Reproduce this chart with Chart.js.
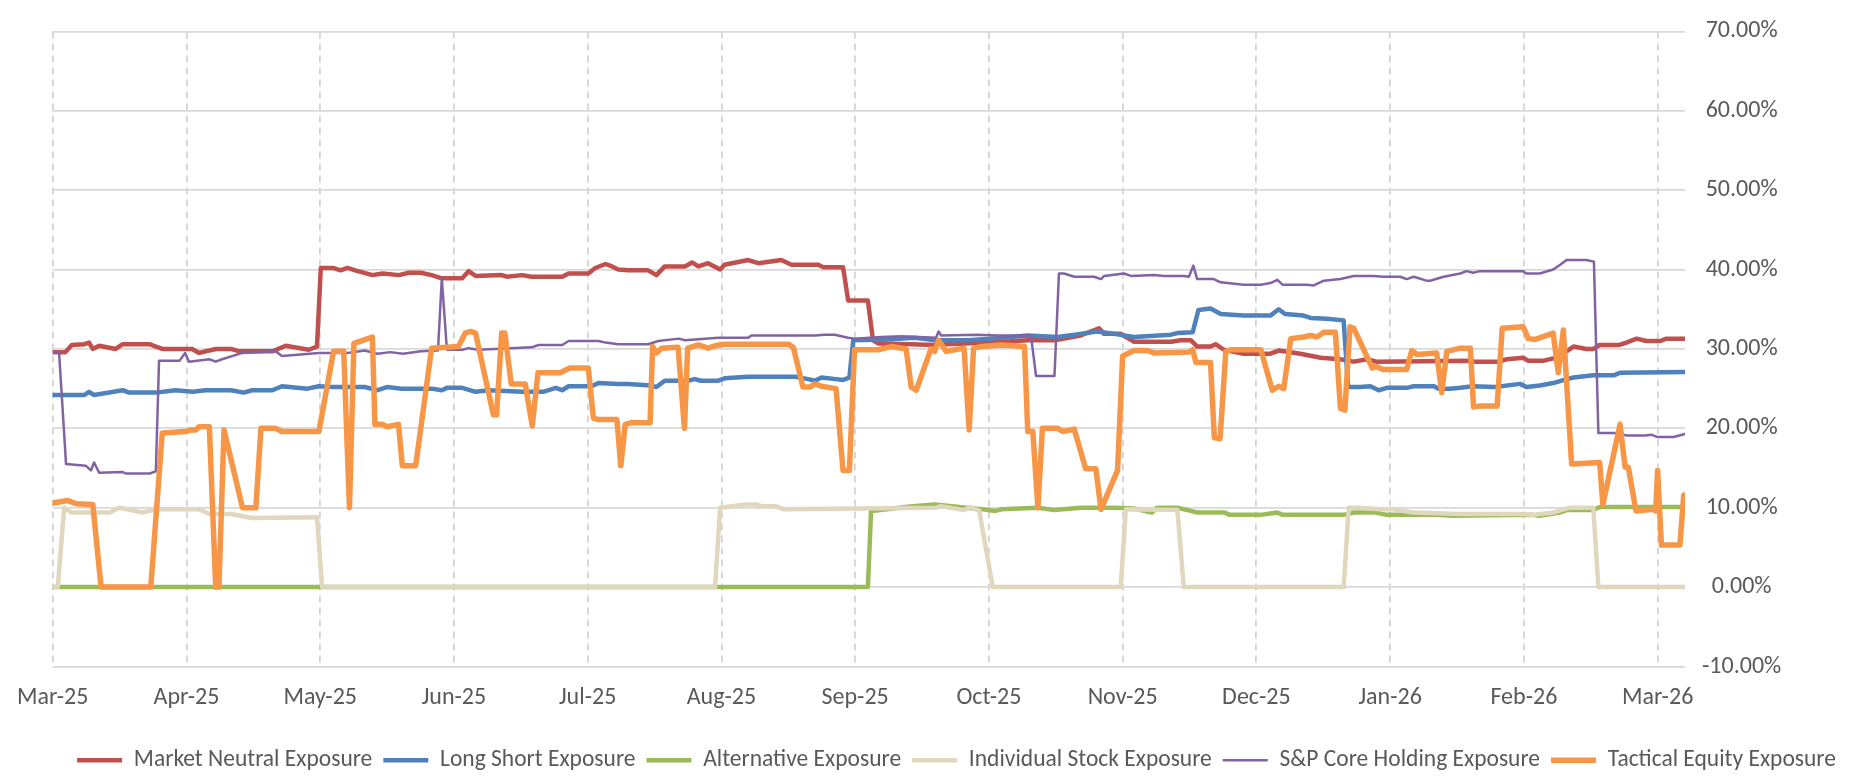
<!DOCTYPE html>
<html>
<head>
<meta charset="utf-8">
<title>Exposure</title>
<script src="https://cdn.jsdelivr.net/npm/chart.js@4.4.1/dist/chart.umd.min.js"></script>
<style>
  html, body { margin: 0; padding: 0; background: #fff; }
</style>
</head>
<body>
<canvas id="exposureChart" width="1865" height="783"></canvas>
<script>
// Month tick labels, one every 21 trading days
const monthLabels = ["Mar-25", "Apr-25", "May-25", "Jun-25", "Jul-25", "Aug-25", "Sep-25",
  "Oct-25", "Nov-25", "Dec-25", "Jan-26", "Feb-26", "Mar-26"];
const DAYS_PER_MONTH = 21;
const LAST_DAY = 256.3;

// Each series: [trading day, exposure %]
const marketNeutral = [[0,29.6],[2,29.6],[3,30.5],[5,30.6],[5.7,30.8],[6.3,30.0],[7.3,30.4],[9.9,30.0],[11,30.6],[15.2,30.6],[16.2,30.3],[17.2,30.0],[21.9,30.0],[23,29.5],[25.6,30.0],[28,30.0],[29.3,29.7],[34.5,29.7],[36.6,30.4],[40.2,29.9],[41.5,30.3],[42.1,40.2],[44,40.2],[45.2,39.9],[46.3,40.2],[47.5,39.9],[50.2,39.3],[51.8,39.5],[54.4,39.3],[55.9,39.6],[57.8,39.6],[59.5,39.3],[61.1,38.9],[64.3,38.9],[65.3,39.8],[66.4,39.2],[70.5,39.3],[71.3,39.1],[73.7,39.3],[75.2,39.1],[80,39.1],[81,39.5],[84.1,39.5],[85.2,40.2],[86.8,40.7],[87.5,40.5],[88.8,40.0],[90.4,39.9],[93.5,39.9],[94.8,39.3],[96.1,40.4],[99.3,40.4],[100.4,40.9],[101.4,40.4],[102.9,40.8],[104.8,40.0],[105.5,40.6],[109.2,41.2],[110.8,40.8],[114.4,41.2],[116,40.6],[120.2,40.6],[121,40.3],[124.1,40.3],[124.9,36.1],[128,36.1],[128.8,31.1],[129.6,30.7],[134.8,30.6],[138.5,30.5],[139.1,30.9],[140.3,30.6],[147.3,30.8],[153.1,31.1],[157.3,31.1],[161.4,31.7],[164.3,32.6],[165.1,31.9],[167.7,31.9],[169.8,30.9],[175.6,30.9],[177.1,31.1],[178.7,31.1],[179.7,30.3],[181.8,30.3],[182.6,30.6],[183.9,29.9],[187,29.4],[191.2,29.4],[192.5,29.8],[195.9,29.4],[199.1,28.9],[202.2,28.7],[204.3,28.4],[206.4,28.7],[207.8,28.4],[222.6,28.5],[223.3,28.4],[227,28.4],[228.3,28.7],[230.9,28.9],[231.7,28.5],[234,28.5],[236.1,28.9],[237.7,29.7],[238.8,30.3],[240.8,30.0],[241.9,30.0],[242.9,30.5],[246,30.5],[247.1,30.8],[248.7,31.3],[250.2,31.0],[252.4,31.0],[253.4,31.3],[256.3,31.3]];

const longShort = [[0,24.2],[5,24.2],[5.7,24.6],[6.5,24.2],[11,24.8],[12,24.5],[16.2,24.5],[19.3,24.8],[22,24.6],[24,24.8],[28,24.8],[30,24.5],[31.3,24.8],[34.5,24.8],[36,25.3],[40,25.0],[41.8,25.3],[44,25.2],[49,25.2],[51,24.8],[52.5,25.2],[54.8,25.0],[59.5,25.0],[61.1,24.8],[61.9,25.1],[64.3,25.1],[66.4,24.6],[68.5,24.8],[73.7,24.6],[77,24.6],[79,25.1],[80,24.8],[81,25.3],[84.6,25.3],[85.7,25.7],[88.8,25.6],[90.4,25.6],[94,25.4],[94.8,25.2],[96.1,26.0],[99.7,26.0],[100.8,26.2],[101.8,26.0],[104.5,26.0],[105.5,26.3],[109.2,26.5],[116.6,26.5],[118.6,26.2],[119.7,26.0],[120.7,26.4],[123,26.2],[124.1,26.1],[125.1,26.4],[125.7,31.1],[131,31.2],[135.3,31.4],[138.7,31.1],[143.7,31.1],[147.3,31.3],[153.1,31.7],[157.8,31.5],[161.4,31.9],[164,32.2],[166.7,31.9],[169.8,31.5],[175.6,31.8],[176.6,32.0],[179,32.1],[179.9,34.9],[181.8,35.1],[183.4,34.4],[187,34.2],[191.2,34.2],[192.5,35.0],[193.5,34.4],[196.4,34.2],[197.5,33.9],[200.1,33.8],[202.7,33.6],[203.4,25.2],[205.3,25.2],[206.9,25.3],[208.2,24.8],[209.5,25.1],[212.6,25.1],[213.7,25.3],[216.9,25.3],[217.6,25.0],[219.4,25.0],[221,25.1],[223,25.3],[226.5,25.2],[230.4,25.6],[231.4,25.2],[233.5,25.4],[235.6,25.7],[237.7,26.2],[238.8,26.4],[241.9,26.7],[245.2,26.7],[246.1,27.0],[256.3,27.1]];

const alternative = [[0,0],[128,0],[128.5,9.6],[131,9.8],[135,10.2],[138.5,10.4],[143.5,10.0],[146,9.8],[148,9.6],[149,9.8],[154.7,10.0],[157.3,9.7],[161.4,10.0],[166.7,10.0],[169.8,9.9],[172.6,9.4],[173.4,10.0],[176.6,10.0],[178.7,9.6],[179.7,9.4],[184,9.4],[184.8,9.1],[189.7,9.1],[192.3,9.4],[193.1,9.1],[202.7,9.1],[204.3,9.4],[207.8,9.4],[209.4,9.1],[217.3,9.1],[219.9,9.0],[232.4,9.1],[233.4,9.0],[236.7,9.4],[237.7,9.7],[241.9,9.7],[242.9,10.1],[256.3,10.1]];

const individualStock = [[0,0],[0.8,0],[1.8,10.0],[2.9,9.4],[9,9.4],[10.4,10.0],[11.2,9.9],[14.1,9.4],[15.2,9.6],[16.2,9.8],[23,9.8],[24.6,9.2],[28,9.2],[31.3,8.7],[41.5,8.8],[42.3,0],[104,0],[104.8,10.0],[108.8,10.4],[110.4,10.4],[111.4,10.2],[113.5,10.2],[114.8,9.8],[138.7,10.0],[139.5,10.2],[143.1,9.7],[144.1,10.1],[145.5,9.6],[147.6,0],[167.7,0],[168.5,9.8],[176.6,9.7],[177.6,0],[202.7,0],[203.5,10.0],[205.3,10.0],[208.4,9.8],[210.4,9.8],[213.7,9.4],[217.3,9.3],[221,9.2],[230.4,9.2],[232.4,9.1],[235.6,9.4],[237.2,9.8],[238.2,10.0],[241.9,10.0],[242.7,0],[256.3,0]];

const spCoreHolding = [[0,29.6],[1,29.6],[2.1,15.5],[5.2,15.3],[6,14.7],[6.5,15.7],[7.3,14.4],[11,14.5],[11.5,14.3],[15.2,14.3],[16.2,14.6],[16.7,28.5],[19.9,28.5],[20.8,29.5],[21.4,28.4],[24.6,28.7],[25.6,28.4],[26.6,28.7],[29.8,29.5],[35,29.7],[36,29.1],[41.8,29.5],[46.3,29.5],[49,29.8],[51,29.4],[53,29.6],[55,29.4],[57.8,29.7],[60.5,29.8],[61.1,38.9],[61.9,29.9],[64.3,29.9],[65.3,30.1],[66.8,29.9],[75.2,30.2],[76.3,30.5],[80,30.5],[81,31.0],[85.7,31.0],[86.8,30.8],[88.8,30.6],[93.5,30.6],[95.1,31.0],[98.3,31.3],[99.3,31.1],[104.5,31.4],[109.2,31.4],[109.7,31.7],[119.7,31.7],[121.2,31.8],[122.8,31.8],[124.9,31.4],[125.9,31.3],[130.1,31.5],[133.2,31.6],[138.7,31.4],[139.1,32.2],[139.5,31.7],[145.2,31.8],[148.4,31.7],[153.6,31.7],[154.4,26.6],[157.3,26.6],[158,39.5],[158.8,39.5],[160.4,39.1],[163.5,39.1],[164.6,38.8],[165.1,39.2],[168.2,39.5],[169.3,39.2],[172.9,39.3],[174.5,39.2],[177.6,39.2],[178.4,39.1],[179.1,40.5],[179.7,38.8],[182.3,38.8],[183.4,38.4],[187,38.1],[189.7,38.1],[191.2,38.3],[192.3,38.7],[193.1,38.1],[196.9,38.1],[198,38.0],[199.6,38.6],[202.2,38.8],[204.3,39.2],[207.4,39.2],[209,39.1],[211.6,39.1],[212.6,38.8],[213.7,39.1],[215.7,38.6],[216.3,38.6],[218.4,39.1],[221,39.5],[222,39.8],[223,39.6],[224.1,39.8],[230.9,39.8],[231.4,39.5],[233.5,39.5],[235.6,40.0],[236.7,40.6],[237.7,41.2],[240.8,41.2],[242,41.0],[242.7,19.4],[245.2,19.4],[247.2,19.1],[250,19.1],[251,19.2],[252,18.9],[254.5,18.9],[256.3,19.3]];

const tacticalEquity = [[0,10.6],[2.4,10.9],[3.7,10.5],[6.3,10.4],[7.6,0],[15.4,0],[17.2,19.4],[20.9,19.6],[21.7,19.8],[22.5,19.8],[23,20.2],[24.6,20.2],[25.6,0],[26.1,0],[26.9,19.8],[29.8,10.0],[31.9,10.0],[32.7,20.0],[35,20.0],[36,19.6],[41.8,19.6],[44.1,29.7],[45.7,29.7],[46.6,10.0],[47.3,30.7],[50.2,31.5],[50.6,20.5],[51.8,20.5],[52.5,20.2],[54.3,20.5],[54.9,15.3],[57,15.3],[59.5,30.1],[63.7,30.3],[64.8,32.0],[65.6,32.2],[66.4,32.0],[69.2,21.7],[69.7,21.7],[70.5,32.0],[71,32.0],[72,25.6],[74.2,25.6],[75.3,20.3],[76.2,27.0],[79.7,27.0],[81.2,27.6],[84.1,27.6],[84.9,21.3],[85.7,21.1],[88.6,21.1],[89.2,15.3],[89.9,20.5],[90.9,20.7],[93.8,20.7],[94.2,30.3],[94.8,29.5],[95.6,30.1],[98.2,30.2],[99.2,20.0],[99.7,30.1],[101.4,30.5],[102.9,30.1],[104,30.4],[105.3,30.6],[115.5,30.6],[116.3,30.2],[117.8,25.2],[118.9,25.2],[119.7,25.6],[120.7,25.3],[123,25.0],[124.1,14.7],[125.1,14.7],[125.9,29.9],[129.6,29.9],[131.7,30.3],[134,30.0],[134.8,25.2],[135.6,24.8],[137.9,30.0],[138.5,29.7],[139.1,31.1],[140.3,29.7],[143.1,30.1],[143.9,19.8],[144.6,30.1],[145.8,30.3],[149,30.5],[152.6,30.3],[153.1,19.6],[153.9,19.6],[154.7,10.0],[155.4,20.0],[157.8,20.0],[158.6,19.6],[160.4,19.9],[162.2,14.9],[163.8,14.9],[164.6,9.8],[167.2,14.7],[168,29.1],[169.8,29.8],[171.9,29.8],[172.9,29.5],[178.4,29.6],[179,29.9],[179.5,28.3],[181.8,28.3],[182.4,18.8],[183.3,18.7],[184.2,29.7],[185,29.9],[189.7,29.9],[191.5,24.8],[192.5,25.3],[193.3,25.0],[194.4,31.3],[196.4,31.5],[197.5,31.7],[198.5,31.5],[199.6,32.1],[201.4,32.1],[202.2,22.5],[202.9,22.3],[203.7,32.8],[204.3,32.6],[207.2,27.6],[207.8,27.8],[208.9,27.4],[212.6,27.4],[213.4,29.8],[214.2,29.3],[217.3,29.5],[218.1,24.5],[218.9,29.7],[221,30.1],[222.6,30.1],[223.1,22.7],[223.9,22.8],[226.8,22.8],[227.6,32.6],[230.9,32.8],[231.7,31.3],[232.8,31.2],[235.6,32.0],[236.4,27.0],[237.2,32.4],[238.5,15.5],[242.9,15.7],[243.4,10.4],[246.1,20.5],[246.9,15.1],[247.4,15.1],[248.6,9.6],[251.3,9.8],[251.7,9.6],[252,14.7],[252.6,5.3],[255.5,5.3],[256.1,11.6]];

const FONT = "Calibri, Carlito, Lato, sans-serif";
Chart.defaults.font.family = FONT;
Chart.defaults.color = "#595959";

// later series are drawn on top (lower order = on top)
function series(label, data, color, width, order) {
  return {
    label: label,
    data: data,
    borderColor: color,
    backgroundColor: color,
    borderWidth: width,
    pointRadius: 0,
    pointHoverRadius: 0,
    pointStyle: "line",
    borderJoinStyle: "round",
    borderCapStyle: "round",
    tension: 0,
    fill: false,
    order: order
  };
}

const ctx = document.getElementById("exposureChart").getContext("2d");
new Chart(ctx, {
  type: "line",
  data: {
    datasets: [
      series("Market Neutral Exposure", marketNeutral, "#C0504D", 4.5, 6),
      series("Long Short Exposure", longShort, "#4F81BD", 4.5, 5),
      series("Alternative Exposure", alternative, "#9BBB59", 4.5, 4),
      series("Individual Stock Exposure", individualStock, "#DFD8BE", 4.5, 3),
      series("S&P Core Holding Exposure", spCoreHolding, "#8064A2", 2.5, 2),
      series("Tactical Equity Exposure", tacticalEquity, "#F79646", 5.5, 1)
    ]
  },
  options: {
    responsive: false,
    animation: false,
    layout: { padding: { left: 48, right: 0, top: 19, bottom: 1 } },
    scales: {
      x: {
        type: "linear",
        min: 0,
        max: LAST_DAY,
        afterBuildTicks: function(scale) {
          scale.ticks = monthLabels.map(function(_, i) { return { value: i * DAYS_PER_MONTH }; });
        },
        afterFit: function(scale) { scale.height = 71; },
        ticks: {
          autoSkip: false,
          maxRotation: 0,
          padding: 17,
          font: { size: 24 },
          callback: function(v) { return monthLabels[Math.round(v / DAYS_PER_MONTH)]; }
        },
        grid: { color: "#d4d4d4", lineWidth: 1.8, drawTicks: false },
        border: { display: false, dash: [7, 5] }
      },
      y: {
        position: "right",
        min: -10,
        max: 70,
        afterFit: function(scale) { scale.width = 180; },
        ticks: {
          stepSize: 10,
          padding: 17,
          crossAlign: "center",
          font: { size: 24 },
          callback: function(v) { return v.toFixed(2) + "%"; }
        },
        grid: { color: "#d9d9d9", lineWidth: 1.8, drawTicks: false },
        border: { display: false }
      }
    },
    plugins: {
      legend: {
        position: "bottom",
        labels: {
          usePointStyle: true,
          pointStyleWidth: 45,
          padding: 11,
          font: { size: 23.5 },
          color: "#595959",
          sort: function(a, b) { return a.datasetIndex - b.datasetIndex; }
        }
      },
      tooltip: { enabled: false }
    }
  }
});
</script>
</body>
</html>
